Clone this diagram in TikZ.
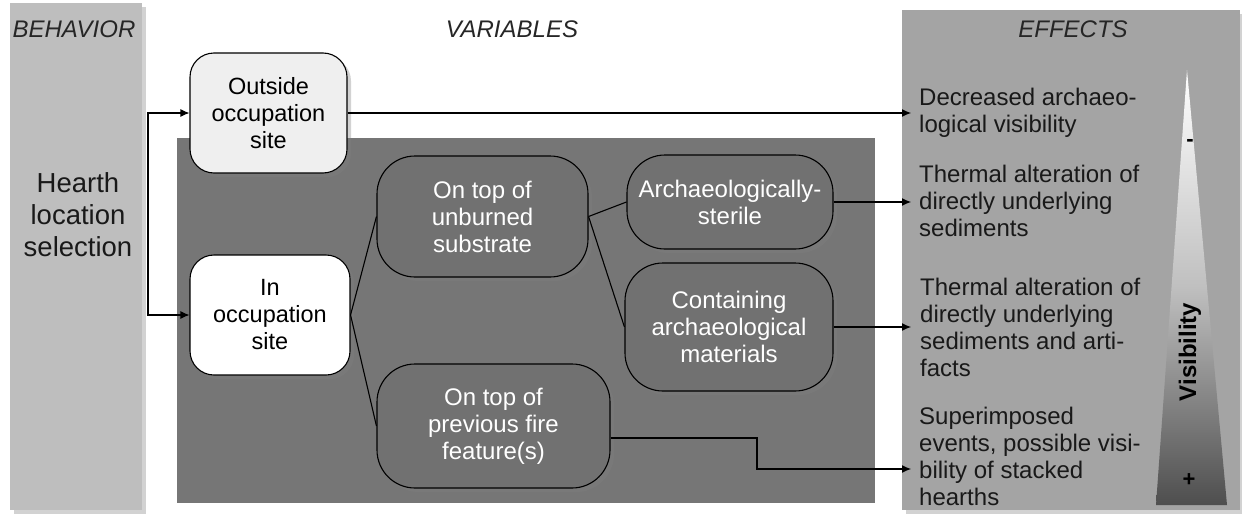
\documentclass[tikz,border=0pt]{standalone}
\usepackage{fontspec}
\setmainfont{Liberation Sans}
\usetikzlibrary{arrows.meta,shadows}
\definecolor{leftpanel}{HTML}{BEBEBE}
\definecolor{effpanel}{HTML}{A4A4A4}
\definecolor{darkpanel}{HTML}{767676}
\definecolor{innerfill}{HTML}{717171}
\definecolor{outfill}{HTML}{EFEFEF}
\definecolor{tridark}{HTML}{4E4E4E}
\begin{document}
\begin{tikzpicture}[x=1pt,y=-1pt,
  shad/.style={drop shadow={opacity=0.35,shadow xshift=4pt,shadow yshift=-4pt}},
  header/.style={font=\fontsize{24}{27}\selectfont\itshape, text=black!85},
  leftbox/.style={draw=black, line width=1.1pt, rounded corners=24pt, align=center,
    inner sep=0pt, font=\fontsize{23.5}{27}\selectfont, shad},
  innerbox/.style={draw=black, line width=1.1pt, fill=innerfill, rounded corners=38pt,
    align=center, inner sep=0pt, text=white, font=\fontsize{24}{27}\selectfont, shad},
  efftext/.style={anchor=west, align=left, inner sep=0pt, font=\fontsize{24}{27}\selectfont, text=black!90},
  conn/.style={draw=black, line width=1.1pt},
  arr/.style={conn, -{Latex[length=9pt,width=8pt]}}
]
\useasboundingbox (0,0) rectangle (1242,514);
\fill[white] (0,0) rectangle (1242,514);

% panels
\fill[leftpanel, shad] (10,3) rectangle (142,510);
\fill[effpanel, shad] (902,10) rectangle (1240,510);
\fill[darkpanel] (177,138) rectangle (875,503);

% headers
\node[header] (hb) at (74,29) {BEHAVIOR};
\node[header] (hv) at (512,29) {VARIABLES};
\node[header] (he) at (1073,29) {EFFECTS};

% behavior text
\node[align=center, font=\fontsize{27.5}{32}\selectfont, text=black!90] (hearth) at (78,215) {Hearth\\location\\selection};

% variable boxes
\node[leftbox, fill=outfill, minimum width=157pt, minimum height=120pt] (outside) at (268.5,113) {Outside\\occupation\\site};
\node[leftbox, fill=white, minimum width=160pt, minimum height=120pt] (insite) at (270,315) {In\\occupation\\site};
\node[innerbox, minimum width=211pt, minimum height=121pt] (unburned) at (482.5,216.5) {On top of\\unburned\\substrate};
\node[innerbox, minimum width=206pt, minimum height=94pt] (sterile) at (730,202) {Archaeologically-\\sterile};
\node[innerbox, minimum width=208pt, minimum height=128pt] (contain) at (729,327) {Containing\\archaeological\\materials};
\node[innerbox, minimum width=233pt, minimum height=124pt] (prev) at (493.5,426) {On top of\\previous fire\\feature(s)};

% visibility triangle
\coordinate (tapex) at (1187,70);
\coordinate (tbl) at (1156,505);
\coordinate (tbr) at (1227,505);
\shade[top color=white, bottom color=tridark, middle color=black!25] (tapex) -- (tbr) -- (tbl) -- cycle;
\node[rotate=90, font=\fontsize{24}{27}\selectfont\bfseries] (vis) at (1190,352) {Visibility};
\node[font=\fontsize{22}{24}\selectfont\bfseries] (minus) at (1190,143) {-};
\node[font=\fontsize{22}{24}\selectfont\bfseries] (plus) at (1189,480) {+};

% effect texts
\node[efftext] (e1) at (919,113) {Decreased archaeo-\\logical visibility};
\node[efftext] (e2) at (919,201) {Thermal alteration of\\directly underlying\\sediments};
\node[efftext] (e3) at (920,327) {Thermal alteration of\\directly underlying\\sediments and arti-\\facts};
\node[efftext] (e4) at (919,456) {Superimposed\\events, possible visi-\\bility of stacked\\hearths};

% connectors
\coordinate (split) at (148,215);
\draw[arr] (split) |- (outside.west);
\draw[arr] (split) |- (insite.west);

\draw[conn] (insite.east) -- (unburned.west);
\draw[conn] (insite.east) -- (prev.west);
\draw[conn] (unburned.east) -- (sterile.west);
\draw[conn] (unburned.east) -- (contain.west);

\coordinate (t1) at (911,113);
\coordinate (t2) at (911,202);
\coordinate (t3) at (911,327);
\coordinate (t4) at (911,469);
\coordinate (pout) at ([yshift=-12pt]prev.east);
\coordinate (bend) at (757,438);

\draw[arr] (outside.east) -- (t1);
\draw[arr] (sterile.east) -- (t2);
\draw[arr] (contain.east) -- (t3);
\draw[arr] (pout) -- (bend) |- (t4);
\end{tikzpicture}
\end{document}
